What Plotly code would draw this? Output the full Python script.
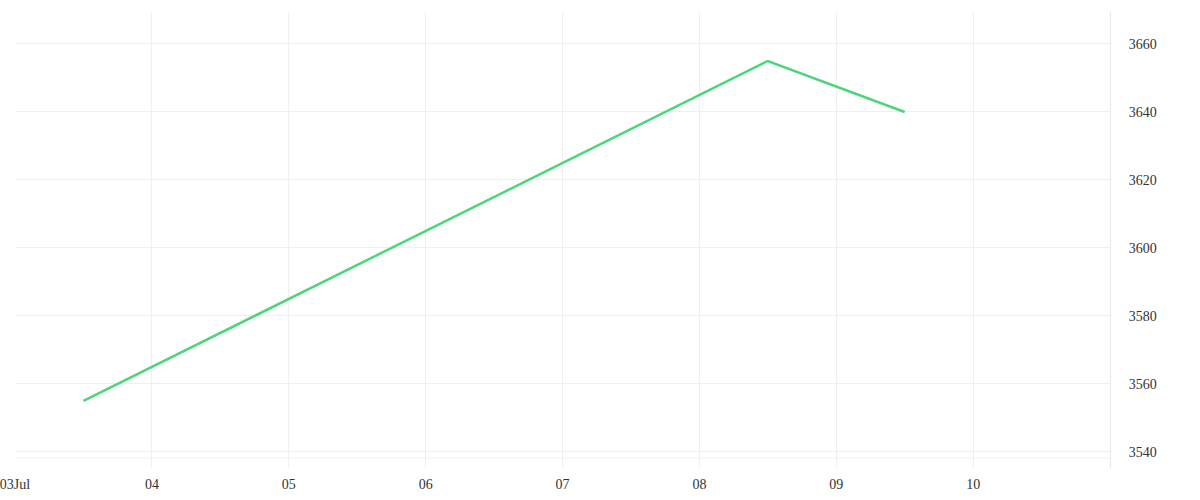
import plotly.graph_objects as go

dates = ["2024-07-03 12:00", "2024-07-04 12:00", "2024-07-05 12:00", "2024-07-06 12:00",
         "2024-07-07 12:00", "2024-07-08 12:00", "2024-07-09 12:00"]
values = [3555, 3575, 3595, 3615, 3635, 3655, 3640]

tick_vals = ["2024-07-03", "2024-07-04", "2024-07-05", "2024-07-06",
             "2024-07-07", "2024-07-08", "2024-07-09", "2024-07-10"]
tick_text = ["03Jul", "04", "05", "06", "07", "08", "09", "10"]
y_ticks = [3540, 3560, 3580, 3600, 3620, 3640, 3660]

fig = go.Figure()
fig.add_trace(go.Scatter(x=dates, y=values, mode="lines",
                         line=dict(color="#4cd57b", width=2.5), hoverinfo="x+y"))

fig.update_layout(
    width=1200, height=500,
    margin=dict(l=15, r=90, t=12, b=32, autoexpand=False),
    paper_bgcolor="white", plot_bgcolor="white",
    showlegend=False,
    xaxis=dict(range=["2024-07-03", "2024-07-11"], tickvals=tick_vals, ticktext=tick_text,
               showgrid=True, gridcolor="#efefef", gridwidth=1, zeroline=False, automargin=False,
               ticklabeloverflow="allow", ticklabelstandoff=6,
               showline=False, ticks="", tickfont=dict(family="Liberation Serif", size=14, color="#333")),
    yaxis=dict(side="right", range=[3535.29, 3669.41], tickvals=y_ticks, automargin=False,
               showgrid=True, gridcolor="#efefef", gridwidth=1, zeroline=False,
               ticklabelstandoff=15,
               showline=True, linecolor="#e8e8e8", linewidth=1, ticks="",
               tickfont=dict(family="Liberation Serif", size=14, color="#333")),
    shapes=[dict(type="line", xref="paper", yref="paper", x0=0, x1=1, y0=0.0219, y1=0.0219,
                 line=dict(color="#efefef", width=1), layer="below")],
)

fig.write_html("out.html", config={"displayModeBar": False},
               post_script="document.body.style.margin='0';")
